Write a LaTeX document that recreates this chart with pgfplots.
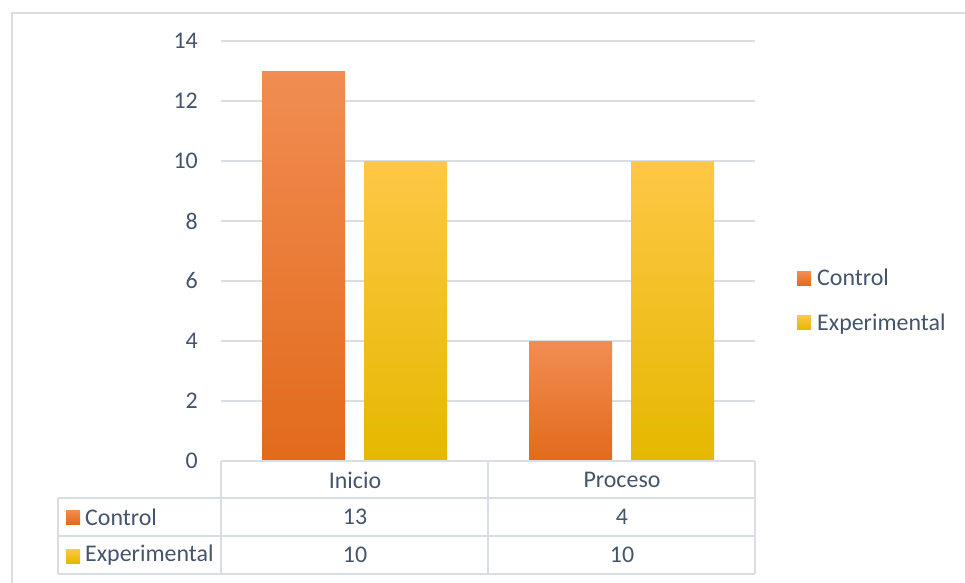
\documentclass[border=0pt]{standalone}
\usepackage{fontspec}
\setmainfont{Carlito}
\usepackage{pgfplots}
\pgfplotsset{compat=1.18}

\definecolor{txt}{HTML}{44546A}
\definecolor{gridc}{HTML}{D9DEE4}
\definecolor{orT}{HTML}{F18D52}
\definecolor{orM}{HTML}{F47B20}
\definecolor{orB}{HTML}{E26A1B}
\definecolor{yeT}{HTML}{FFC746}
\definecolor{yeM}{HTML}{FFC000}
\definecolor{yeB}{HTML}{E5B800}

\newcommand{\chartfont}{\fontsize{24}{28}\selectfont}

\begin{document}
\begin{tikzpicture}
\path[use as bounding box] (0,0) rectangle (965bp,-583bp);
\draw[gridc, line width=1.2bp] (12bp,-583bp) -- (12bp,-13bp) -- (965bp,-13bp);

\begin{axis}[
    at={(221bp,-461bp)}, anchor=south west,
    width=534bp, height=420bp, scale only axis,
    xmin=0, xmax=2, ymin=0, ymax=14,
    ytick={0,2,...,14},
    xtick=\empty,
    ybar, bar width=83bp,
    axis line style={draw=none},
    major tick style={draw=none},
    ymajorgrids,
    grid style={gridc, line width=1.2bp},
    tick label style={font=\chartfont, text=txt},
    yticklabel style={inner sep=0pt, anchor=east, xshift=-23bp},
    /pgf/number format/assume math mode=true,
    clip=false,
    legend cell align=left,
    legend style={at={(1.0787,0.3822)}, anchor=west, draw=none, fill=none,
        font=\chartfont, text=txt, row sep=22bp, inner sep=0pt},
    legend image code/.code={\path[#1, draw=none] (0bp,-7bp) rectangle (14bp,7bp);
        \path (0bp,0bp) -- (18bp,0bp);},
    ctrl/.style={draw=none, bar shift=-51bp, top color=orT, middle color=orM, bottom color=orB},
    expe/.style={draw=none, bar shift=51bp, top color=yeT, middle color=yeM, bottom color=yeB},
]
% 0.5 = Inicio, 1.5 = Proceso; una barra por \addplot para que cada una tenga su degradado
\addplot[ctrl] coordinates {(0.5,13)};
\addlegendentry{Control}
\addplot[expe] coordinates {(0.5,10)};
\addlegendentry{Experimental}
\addplot[ctrl, forget plot] coordinates {(1.5,4)};
\addplot[expe, forget plot] coordinates {(1.5,10)};
\end{axis}

% tabla de datos
\begin{scope}[x=1bp, y=-1bp]
\draw[gridc, line width=1.2bp]
    (221,461) -- (755,461)
    (58,498) -- (755,498)
    (58,536) -- (755,536)
    (58,574) -- (755,574)
    (58,498) -- (58,574)
    (221,461) -- (221,574)
    (488,461) -- (488,574)
    (755,461) -- (755,574);
\begin{scope}[every node/.style={font=\chartfont, text=txt, inner sep=0pt}]
\node at (355,480) {Inicio};
\node at (622,480) {Proceso};
\node at (355,517) {13};
\node at (622,517) {4};
\node at (355,555) {10};
\node at (622,555) {10};
\shade[top color=orT, middle color=orM, bottom color=orB] (66,510) rectangle (80,524);
\shade[top color=yeT, middle color=yeM, bottom color=yeB] (66,549) rectangle (80,563);
\node[anchor=west] at (85,517) {Control};
\node[anchor=west] at (85,555) {Experimental};
\end{scope}
\end{scope}
\end{tikzpicture}
\end{document}
